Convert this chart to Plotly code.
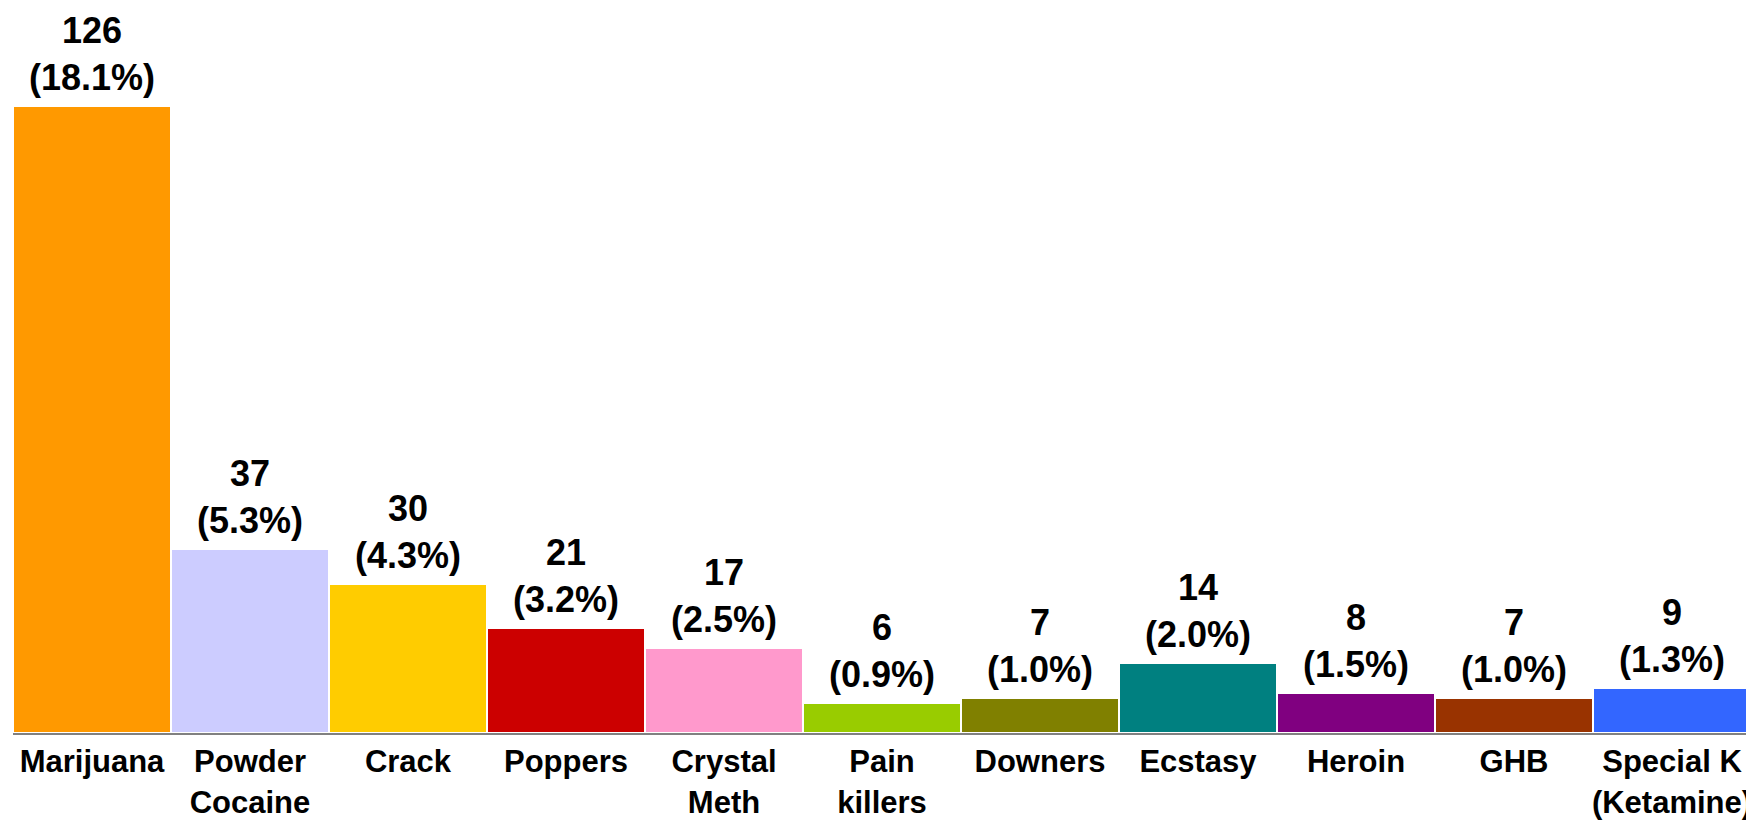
import plotly.graph_objects as go

# Data
categories = ['Marijuana', 'Powder<br>Cocaine', 'Crack', 'Poppers', 'Crystal<br>Meth',
              'Pain<br>killers', 'Downers', 'Ecstasy', 'Heroin', 'GHB',
              'Special K<br>(Ketamine)']
counts = [126, 37, 30, 21, 17, 6, 7, 14, 8, 7, 9]
percents = ['18.1%', '5.3%', '4.3%', '3.2%', '2.5%', '0.9%', '1.0%', '2.0%', '1.5%', '1.0%', '1.3%']

BAR_COLORS = ['#FF9900', '#CCCCFF', '#FFCC00', '#CC0000', '#FF99CC', '#99CC00',
              '#808000', '#008080', '#800080', '#993300', '#3366FF']

labels = [f'{c}<br>({p})' for c, p in zip(counts, percents)]

fig = go.Figure()
fig.add_trace(go.Bar(
    x=categories,
    y=counts,
    marker=dict(color=BAR_COLORS, line=dict(color='white', width=2)),
    cliponaxis=False,
))

# value labels above the bars
for cat, cnt, lab in zip(categories, counts, labels):
    fig.add_annotation(
        x=cat, y=cnt, text=lab, showarrow=False,
        xanchor='center', yanchor='bottom', yshift=6,
        font=dict(family='Liberation Sans', size=36, color='black', weight='bold'),
    )

# page body has an 8px margin, so the figure is sized 8px smaller
fig.update_layout(
    width=1746,
    height=812,
    template='plotly_white',
    plot_bgcolor='white',
    paper_bgcolor='white',
    showlegend=False,
    bargap=0,
    margin=dict(l=5, r=3, t=0, b=83),
    font=dict(family='Liberation Sans', color='black'),
    xaxis=dict(
        showline=True, linecolor='#808080', linewidth=2,
        showgrid=False, ticks='',
        tickfont=dict(family='Liberation Sans', size=31, color='black', weight='bold'),
    ),
    yaxis=dict(visible=False, range=[0, 145.6], showgrid=False),
)

fig.write_html('out.html')
